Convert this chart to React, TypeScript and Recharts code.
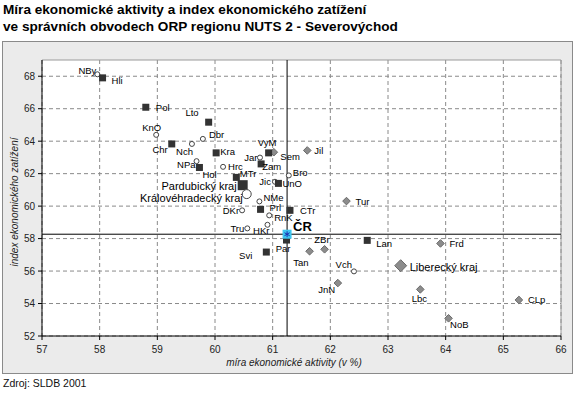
import React from "react";
import {
  ScatterChart,
  Scatter,
  XAxis,
  YAxis,
  CartesianGrid,
  ReferenceLine,
} from "recharts";

// axis ticks
const xTicks = [57, 58, 59, 60, 61, 62, 63, 64, 65, 66];
const yTicks = [52, 54, 56, 58, 60, 62, 64, 66, 68];

// ORP Pardubického kraje (black squares)
const pardubickeOrp = [
  { name: "Hli", x: 58.05, y: 67.9 },
  { name: "Pol", x: 58.8, y: 66.09 },
  { name: "Lto", x: 59.89, y: 65.17 },
  { name: "Chr", x: 59.25, y: 63.83 },
  { name: "Kra", x: 60.02, y: 63.28 },
  { name: "Hol", x: 59.73, y: 62.38 },
  { name: "VyM", x: 60.93, y: 63.28 },
  { name: "Zam", x: 60.8, y: 62.6 },
  { name: "MTr", x: 60.37, y: 61.77 },
  { name: "UnO", x: 61.1, y: 61.4 },
  { name: "Prl", x: 60.79, y: 59.8 },
  { name: "CTr", x: 61.3, y: 59.74 },
  { name: "Par", x: 61.24, y: 57.91 },
  { name: "Svi", x: 60.89, y: 57.17 },
  { name: "Lan", x: 62.64, y: 57.89 },
];

// ORP Královéhradeckého kraje (open circles)
const kralovehradeckeOrp = [
  { name: "NBy", x: 57.96, y: 68.12 },
  { name: "KnO", x: 58.98, y: 64.39 },
  { name: "Dbr", x: 59.79, y: 64.14 },
  { name: "Nch", x: 59.6, y: 63.83 },
  { name: "NPa", x: 59.68, y: 62.77 },
  { name: "Hrc", x: 60.14, y: 62.42 },
  { name: "Jar", x: 60.78, y: 62.99 },
  { name: "Bro", x: 61.28, y: 61.89 },
  { name: "Jic", x: 61.04, y: 61.5 },
  { name: "NMe", x: 60.77, y: 60.29 },
  { name: "DKr", x: 60.47, y: 59.74 },
  { name: "RnK", x: 60.94, y: 59.43 },
  { name: "Tru", x: 60.56, y: 58.63 },
  { name: "HKr", x: 60.91, y: 58.85 },
  { name: "Vch", x: 62.41, y: 55.98 },
];

// ORP Libereckého kraje (grey diamonds)
const libereckeOrp = [
  { name: "Sem", x: 61.02, y: 63.32 },
  { name: "Jil", x: 61.6, y: 63.43 },
  { name: "Tur", x: 62.28, y: 60.31 },
  { name: "ZBr", x: 61.9, y: 57.34 },
  { name: "Tan", x: 61.64, y: 57.22 },
  { name: "Frd", x: 63.91, y: 57.7 },
  { name: "JnN", x: 62.13, y: 55.26 },
  { name: "Lbc", x: 63.56, y: 54.87 },
  { name: "CLp", x: 65.27, y: 54.22 },
  { name: "NoB", x: 64.05, y: 53.09 },
];

const pardubickyKraj = [{ name: "Pardubický kraj", x: 60.48, y: 61.29 }];
const kralovehradeckyKraj = [{ name: "Královéhradecký kraj", x: 60.55, y: 60.74 }];
const libereckyKraj = [{ name: "Liberecký kraj", x: 63.22, y: 56.33 }];
const ceskaRepublika = [{ name: "ČR", x: 61.25, y: 58.27 }];

// label offsets from marker centre: dx, dy, anchor
const labelPos: Record<string, [number, number, string]> = {
  NBy: [-1, -4, "end"],
  Hli: [9, 3, "start"],
  Pol: [10, 0, "start"],
  Lto: [-10, -9.5, "end"],
  KnO: [-4.5, -7, "middle"],
  Dbr: [6, -4, "start"],
  Chr: [-4, 6, "end"],
  Nch: [1, 8, "end"],
  Kra: [4, -1, "start"],
  NPa: [-1, 3, "end"],
  Hol: [3, 7, "start"],
  Hrc: [5, 0, "start"],
  VyM: [-1.5, -10, "middle"],
  Sem: [6.5, 4, "start"],
  Jil: [7, 0, "start"],
  Jar: [-2.5, 0, "end"],
  Zam: [1, 3, "start"],
  Bro: [4, -3, "start"],
  MTr: [3.5, -4, "start"],
  "Pardubický kraj": [-6, 1, "end"],
  "Královéhradecký kraj": [-4, 4, "end"],
  Jic: [-4, 0, "end"],
  UnO: [4, 0, "start"],
  NMe: [4, -4, "start"],
  Prl: [9, -2, "start"],
  DKr: [-3, 0, "end"],
  CTr: [10, 0, "start"],
  RnK: [5, 2, "start"],
  Tru: [-3, 0, "end"],
  HKr: [2, 6, "end"],
  "ČR": [6, -8, "start"],
  Tur: [9, 0, "start"],
  Par: [4, 8, "end"],
  Svi: [-14, 3, "end"],
  ZBr: [-2.6, -9.6, "middle"],
  Tan: [-1, 11, "end"],
  Lan: [9, 3, "start"],
  Frd: [9, 0, "start"],
  "Liberecký kraj": [9, 1, "start"],
  Vch: [-2, -7, "end"],
  JnN: [-2.7, 6.7, "end"],
  Lbc: [-1, 9, "middle"],
  CLp: [9, 0, "start"],
  NoB: [1.5, 6, "start"],
};

const FONT = "'Liberation Sans', Arial, sans-serif";

function PointLabel({ cx, cy, name, size, bold }: any) {
  const [dx, dy, anchor] = labelPos[name] || [6, 0, "start"];
  return (
    <text
      x={cx + dx}
      y={cy + dy}
      textAnchor={anchor}
      dominantBaseline="central"
      fontSize={size}
      fontWeight={bold ? "bold" : "normal"}
      fontFamily={FONT}
      fill="#000"
    >
      {name}
    </text>
  );
}

function makeShape(kind: string, big: boolean) {
  return (props: any) => {
    const { cx, cy, payload } = props;
    if (cx == null || cy == null) return <g />;
    let mark: React.ReactNode = null;
    if (kind === "square") {
      const s = big ? 10 : 7;
      mark = <rect x={cx - s / 2} y={cy - s / 2} width={s} height={s} fill="#333" />;
    } else if (kind === "circle") {
      mark = <circle cx={cx} cy={cy} r={big ? 4.5 : 2.5} fill="#fff" stroke="#444" strokeWidth={1} />;
    } else if (kind === "diamond") {
      const h = big ? 6 : 3.8;
      mark = (
        <polygon
          points={`${cx},${cy - h} ${cx + h},${cy} ${cx},${cy + h} ${cx - h},${cy}`}
          fill="#8c8c8c"
          stroke="#6a6a6a"
          strokeWidth={1}
        />
      );
    } else {
      // ČR
      mark = (
        <g>
          <rect x={cx - 4.5} y={cy - 4.5} width={9} height={9} fill="#3cc6f0" />
          <g stroke="#1a2fb0" strokeWidth={1}>
            <line x1={cx} y1={cy - 3} x2={cx} y2={cy + 3} />
            <line x1={cx - 2.6} y1={cy - 1.5} x2={cx + 2.6} y2={cy + 1.5} />
            <line x1={cx - 2.6} y1={cy + 1.5} x2={cx + 2.6} y2={cy - 1.5} />
          </g>
        </g>
      );
    }
    return (
      <g>
        {mark}
        <PointLabel
          cx={cx}
          cy={cy}
          name={payload.name}
          size={kind === "cr" ? 13 : big ? 11 : 9.5}
          bold={kind === "cr"}
        />
      </g>
    );
  };
}

export default function App() {
  return (
    <div
      style={{
        position: "absolute",
        left: 0,
        top: 0,
        width: 577,
        height: 398,
        background: "#fff",
        overflow: "hidden",
        fontFamily: FONT,
      }}
    >
      <div
        style={{
          position: "absolute",
          left: 3,
          top: 1,
          fontSize: 13.6,
          fontWeight: "bold",
          lineHeight: "17px",
          color: "#000",
        }}
      >
        <div>Míra ekonomické aktivity a index ekonomického zatížení</div>
        <div>ve správních obvodech ORP regionu NUTS 2 - Severovýchod</div>
      </div>

      <div
        style={{
          position: "absolute",
          left: 2,
          top: 41,
          width: 571,
          height: 333,
          boxSizing: "border-box",
          background: "#ebebeb",
          border: "1px solid #8a8a8a",
        }}
      />

      <div style={{ position: "absolute", left: 0, top: 0 }}>
        <ScatterChart
          width={577}
          height={398}
          margin={{ top: 60, right: 16, bottom: 42, left: 0 }}
        >
          <CartesianGrid
            fill="#fff"
            stroke="#8a8a8a"
            strokeDasharray="4 3"
            horizontalValues={yTicks}
            verticalValues={xTicks}
          />
          <XAxis
            type="number"
            dataKey="x"
            domain={[57, 66]}
            ticks={xTicks}
            allowDataOverflow
            height={20}
            stroke="#000"
            tickSize={4}
            tickMargin={6}
            tick={{ fontSize: 10, fill: "#222", fontFamily: FONT }}
          />
          <YAxis
            type="number"
            dataKey="y"
            domain={[52, 69]}
            ticks={yTicks}
            allowDataOverflow
            width={42}
            stroke="#000"
            tickSize={4}
            tickMargin={3}
            tick={{ fontSize: 10, fill: "#222", fontFamily: FONT }}
          />
          <ReferenceLine y={69} stroke="#9a9a9a" />
          <ReferenceLine x={66} stroke="#9a9a9a" />
          <ReferenceLine x={ceskaRepublika[0].x} stroke="#000" />
          <ReferenceLine y={ceskaRepublika[0].y} stroke="#000" />
          <Scatter data={libereckeOrp} shape={makeShape("diamond", false)} isAnimationActive={false} />
          <Scatter data={kralovehradeckeOrp} shape={makeShape("circle", false)} isAnimationActive={false} />
          <Scatter data={pardubickeOrp} shape={makeShape("square", false)} isAnimationActive={false} />
          <Scatter data={pardubickyKraj} shape={makeShape("square", true)} isAnimationActive={false} />
          <Scatter data={kralovehradeckyKraj} shape={makeShape("circle", true)} isAnimationActive={false} />
          <Scatter data={libereckyKraj} shape={makeShape("diamond", true)} isAnimationActive={false} />
          <Scatter data={ceskaRepublika} shape={makeShape("cr", false)} isAnimationActive={false} />
        </ScatterChart>
      </div>

      <div
        style={{
          position: "absolute",
          left: 14,
          top: 202,
          transform: "translate(-50%, -50%) rotate(-90deg)",
          fontSize: 10,
          fontStyle: "italic",
          whiteSpace: "nowrap",
          color: "#222",
        }}
      >
        index ekonomického zatížení
      </div>
      <div
        style={{
          position: "absolute",
          left: 294,
          top: 362,
          transform: "translate(-50%, -50%)",
          fontSize: 10,
          fontStyle: "italic",
          whiteSpace: "nowrap",
          color: "#222",
        }}
      >
        míra ekonomické aktivity (v %)
      </div>
      <div
        style={{
          position: "absolute",
          left: 3,
          top: 377,
          fontSize: 10.5,
          color: "#111",
        }}
      >
        Zdroj: SLDB 2001
      </div>
    </div>
  );
}
